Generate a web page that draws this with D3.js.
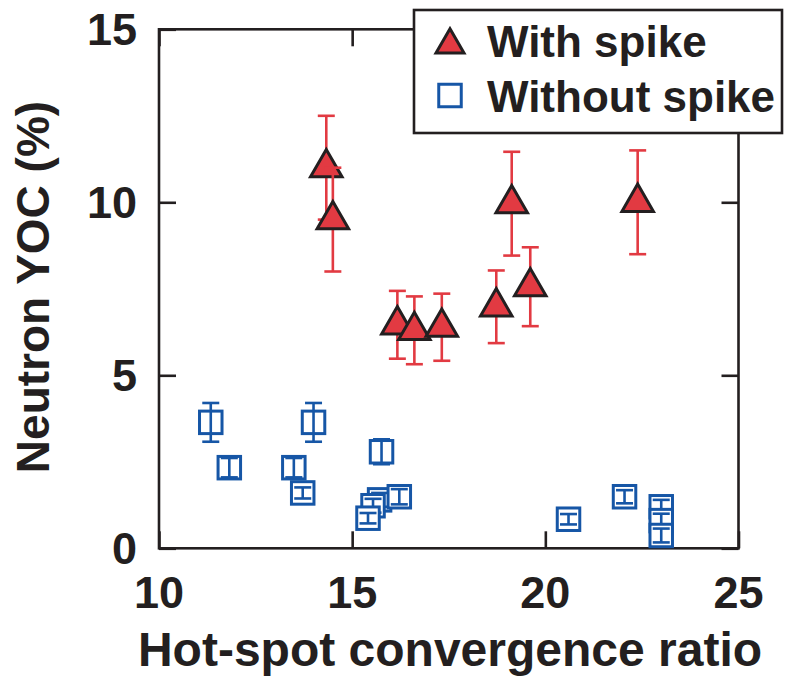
<!DOCTYPE html>
<html>
<head>
<meta charset="utf-8">
<script src="https://cdn.jsdelivr.net/npm/d3@7"></script>
<style>
  html, body { margin: 0; padding: 0; background: #fff; }
  svg { display: block; }
  text { font-family: "Liberation Sans", Arial, Helvetica, sans-serif; font-weight: bold; fill: #231f20; }
</style>
</head>
<body>
<svg id="chart" width="786" height="677"></svg>
<script>
// Implosions with a spike: convergence ratio, neutron YOC (%), error (±)
const spikeCR  = [14.33, 14.50, 16.17, 16.61, 17.32, 18.73, 19.13, 19.61, 22.39];
const spikeYOC = [11.0,  9.5,   6.46,  6.30,  6.39,  6.98,  9.96,  7.56,  10.0];
const spikeErr = [1.5,   1.5,   0.98,  0.98,  0.97,  1.05,  1.5,   1.14,  1.5];

// Implosions without a spike
const plainCR  = [11.34, 11.82, 14.0, 13.49, 13.72, 15.76, 15.71, 15.54, 15.41, 16.22, 20.6, 22.05, 23.0, 23.0, 23.0];
const plainYOC = [3.64,  2.33,  3.64, 2.33,  1.6,   2.79,  1.40,  1.23,  0.87,  1.49,  0.84, 1.49,  1.2,  0.8,  0.37];
const plainErr = [0.56,  0.28,  0.56, 0.28,  0.16,  0.36,  0.2,   0.2,   0.15,  0.22,  0.15, 0.19,  0.2,  0.2,  0.2];

const xTicks = [10, 15, 20, 25];
const yTicks = [0, 5, 10, 15];
const legendLabels = ["With spike", "Without spike"];

const ink = "#231f20";
const red = "#e23a42";
const blue = "#1656a6";

const svg = d3.select("#chart");
const x = d3.scaleLinear().domain([10, 25]).range([159, 738.5]);
const y = d3.scaleLinear().domain([0, 15]).range([548.3, 29.3]);

const tickLen = 17;

// Ticks pointing inward on all four sides
const g = svg.append("g");
g.append("g").attr("transform", `translate(0,${y(0)})`)
  .call(d3.axisTop(x).tickValues(xTicks).tickSize(tickLen).tickFormat(""));
g.append("g").attr("transform", `translate(0,${y(15)})`)
  .call(d3.axisBottom(x).tickValues(xTicks).tickSize(tickLen).tickFormat(""));
g.append("g").attr("transform", `translate(${x(10)},0)`)
  .call(d3.axisRight(y).tickValues(yTicks).tickSize(tickLen).tickFormat(""));
g.append("g").attr("transform", `translate(${x(25)},0)`)
  .call(d3.axisLeft(y).tickValues(yTicks).tickSize(tickLen).tickFormat(""));
g.selectAll(".domain").remove();
g.selectAll(".tick line").attr("stroke", ink).attr("stroke-width", 2.6);

// Frame
svg.append("rect")
  .attr("x", x(10)).attr("y", y(15))
  .attr("width", x(25) - x(10)).attr("height", y(0) - y(15))
  .attr("fill", "none").attr("stroke", ink).attr("stroke-width", 2.6);

// Tick labels
svg.append("g").selectAll("text").data(xTicks).join("text")
  .attr("x", d => x(d)).attr("y", 608)
  .attr("text-anchor", "middle")
  .attr("font-size", 45)
  .text(d => d);
svg.append("g").selectAll("text").data(yTicks).join("text")
  .attr("x", 137).attr("y", d => y(d) + 16)
  .attr("text-anchor", "end")
  .attr("font-size", 45)
  .text(d => d);

// Axis titles
svg.append("text")
  .attr("x", 450).attr("y", 666)
  .attr("text-anchor", "middle")
  .attr("font-size", 48)
  .text("Hot-spot convergence ratio");
svg.append("text")
  .attr("transform", "translate(49,287) rotate(-90)")
  .attr("text-anchor", "middle")
  .attr("font-size", 46)
  .text("Neutron YOC (%)");

const capHalf = 8.5;
const tri = d3.symbol().type(d3.symbolTriangle).size(430);
const sq = 22.5;

function errorBar(sel, cx, v, e, color) {
  const y0 = y(v - e), y1 = y(v + e), px = x(cx);
  sel.append("line").attr("x1", px).attr("x2", px).attr("y1", y0).attr("y2", y1);
  sel.append("line").attr("x1", px - capHalf).attr("x2", px + capHalf).attr("y1", y0).attr("y2", y0);
  sel.append("line").attr("x1", px - capHalf).attr("x2", px + capHalf).attr("y1", y1).attr("y2", y1);
  sel.selectAll("line").attr("stroke", color).attr("stroke-width", 2.6);
}

// Without spike: open squares with error bars
const plain = svg.append("g");
plainCR.forEach((cx, i) => {
  const p = plain.append("g");
  p.append("rect")
    .attr("x", x(cx) - sq / 2).attr("y", y(plainYOC[i]) - sq / 2)
    .attr("width", sq).attr("height", sq)
    .attr("fill", "#fff").attr("stroke", blue).attr("stroke-width", 3);
  errorBar(p, cx, plainYOC[i], plainErr[i], blue);
});

// With spike: error bars then filled triangles
const spike = svg.append("g");
spikeCR.forEach((cx, i) => {
  const p = spike.append("g");
  errorBar(p, cx, spikeYOC[i], spikeErr[i], red);
  p.append("path")
    .attr("d", tri)
    .attr("transform", `translate(${x(cx)},${y(spikeYOC[i])})`)
    .attr("fill", red).attr("stroke", ink).attr("stroke-width", 3)
    .attr("stroke-linejoin", "miter");
});

// Legend
const leg = svg.append("g");
leg.append("rect")
  .attr("x", 414).attr("y", 10).attr("width", 368).attr("height", 123)
  .attr("fill", "#fff").attr("stroke", ink).attr("stroke-width", 2.6);
leg.append("path")
  .attr("d", d3.symbol().type(d3.symbolTriangle).size(340))
  .attr("transform", "translate(450,45)")
  .attr("fill", red).attr("stroke", ink).attr("stroke-width", 3);
leg.append("rect")
  .attr("x", 450 - sq / 2).attr("y", 95.5 - sq / 2)
  .attr("width", sq).attr("height", sq)
  .attr("fill", "#fff").attr("stroke", blue).attr("stroke-width", 3);
leg.selectAll("text.lbl").data(legendLabels).join("text")
  .attr("class", "lbl")
  .attr("x", 487).attr("y", (d, i) => 57 + i * 55)
  .attr("font-size", 44)
  .text(d => d);
</script>
</body>
</html>
